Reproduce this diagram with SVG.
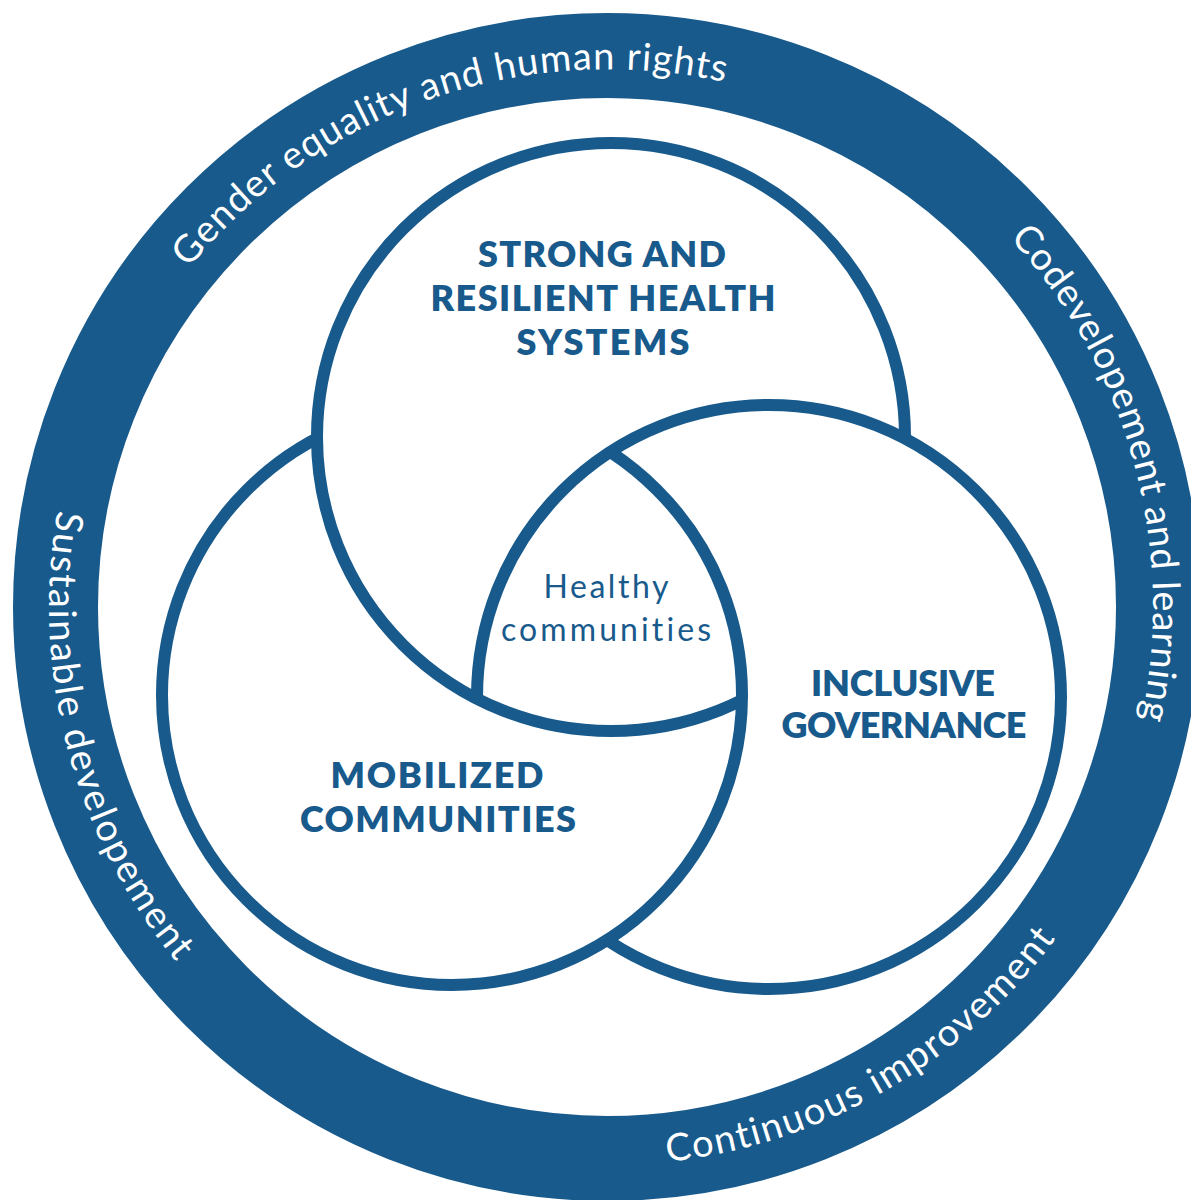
<svg xmlns="http://www.w3.org/2000/svg" xmlns:xlink="http://www.w3.org/1999/xlink" width="1191" height="1200" viewBox="0 0 1191 1200">
  <style>
    .ring { fill: none; stroke: #185a8c; stroke-width: 85; }
    .loop { fill: none; stroke: #185a8c; stroke-width: 12; }
    text { font-variant-ligatures: none; }
    .ring-label { font-family: "Lato", "Liberation Sans", sans-serif; font-size: 38px; font-weight: 400; fill: #ffffff; }
    .heading { font-family: "Lato", "Liberation Sans", sans-serif; font-size: 36px; font-weight: 800; fill: #185a8c; text-anchor: middle; }
    .core { font-family: "Lato", "Liberation Sans", sans-serif; font-size: 32px; font-weight: 400; fill: #185a8c; text-anchor: middle; }
  </style>
  <defs>
    <!-- baselines for the ring captions (clockwise: top and right; counter-clockwise: left and bottom) -->
    <path id="arc-gender" d="M188.9,268.4 A540,540 0 0 1 791.0,101.4"/>
    <path id="arc-codev" d="M1009.6,238.1 A546,546 0 0 1 1120.1,793.7"/>
    <path id="arc-sustain" d="M57.5,510.1 A558,558 0 0 0 286.9,1064.1"/>
    <path id="arc-contin" d="M667.3,1161.8 A558,558 0 0 0 1131.3,797.8"/>

    <!-- over/under weaving: each loop hides the arc that lies inside the next loop but outside the previous one -->
    <mask id="cut-top" maskUnits="userSpaceOnUse" x="0" y="0" width="1191" height="1200">
      <rect width="1191" height="1200" fill="#fff"/>
      <circle cx="769" cy="697" r="292" fill="#000"/>
      <circle cx="452" cy="695" r="290" fill="#fff"/>
    </mask>
    <mask id="cut-left" maskUnits="userSpaceOnUse" x="0" y="0" width="1191" height="1200">
      <rect width="1191" height="1200" fill="#fff"/>
      <circle cx="611" cy="437" r="294" fill="#000"/>
      <circle cx="769" cy="697" r="292" fill="#fff"/>
    </mask>
    <mask id="cut-right" maskUnits="userSpaceOnUse" x="0" y="0" width="1191" height="1200">
      <rect width="1191" height="1200" fill="#fff"/>
      <circle cx="452" cy="695" r="290" fill="#000"/>
      <circle cx="611" cy="437" r="294" fill="#fff"/>
    </mask>
  </defs>

  <rect width="1191" height="1200" fill="#ffffff"/>

  <!-- outer ring with its four captions -->
  <g id="outer-ring">
    <circle class="ring" cx="607" cy="607" r="551.5"/>
    <text class="ring-label"><textPath xlink:href="#arc-gender" href="#arc-gender" textLength="597" lengthAdjust="spacing">Gender equality and human rights</textPath></text>
    <text class="ring-label"><textPath xlink:href="#arc-codev" href="#arc-codev" textLength="518" lengthAdjust="spacing">Codevelopement and learning</textPath></text>
    <text class="ring-label"><textPath xlink:href="#arc-sustain" href="#arc-sustain" textLength="482" lengthAdjust="spacing">Sustainable developement</textPath></text>
    <text class="ring-label"><textPath xlink:href="#arc-contin" href="#arc-contin" textLength="461" lengthAdjust="spacing">Continuous improvement</textPath></text>
  </g>

  <g id="health-systems">
    <circle class="loop" cx="611" cy="437" r="294" mask="url(#cut-top)"/>
    <text class="heading" x="602" y="267" textLength="248" lengthAdjust="spacing">STRONG AND</text>
    <text class="heading" x="603" y="311" textLength="345" lengthAdjust="spacing">RESILIENT HEALTH</text>
    <text class="heading" x="603" y="355" textLength="173" lengthAdjust="spacing">SYSTEMS</text>
  </g>

  <g id="mobilized-communities">
    <circle class="loop" cx="452" cy="695" r="290" mask="url(#cut-left)"/>
    <text class="heading" x="437" y="788" textLength="213" lengthAdjust="spacing">MOBILIZED</text>
    <text class="heading" x="438" y="832" textLength="276" lengthAdjust="spacing">COMMUNITIES</text>
  </g>

  <g id="inclusive-governance">
    <circle class="loop" cx="769" cy="697" r="292" mask="url(#cut-right)"/>
    <text class="heading" x="903" y="696" textLength="184" lengthAdjust="spacing">INCLUSIVE</text>
    <text class="heading" x="904" y="738" textLength="245" lengthAdjust="spacing">GOVERNANCE</text>
  </g>

  <g id="healthy-communities">
    <text class="core" x="606" y="598" textLength="125" lengthAdjust="spacing">Healthy</text>
    <text class="core" x="606" y="641" textLength="210" lengthAdjust="spacing">communities</text>
  </g>
</svg>
